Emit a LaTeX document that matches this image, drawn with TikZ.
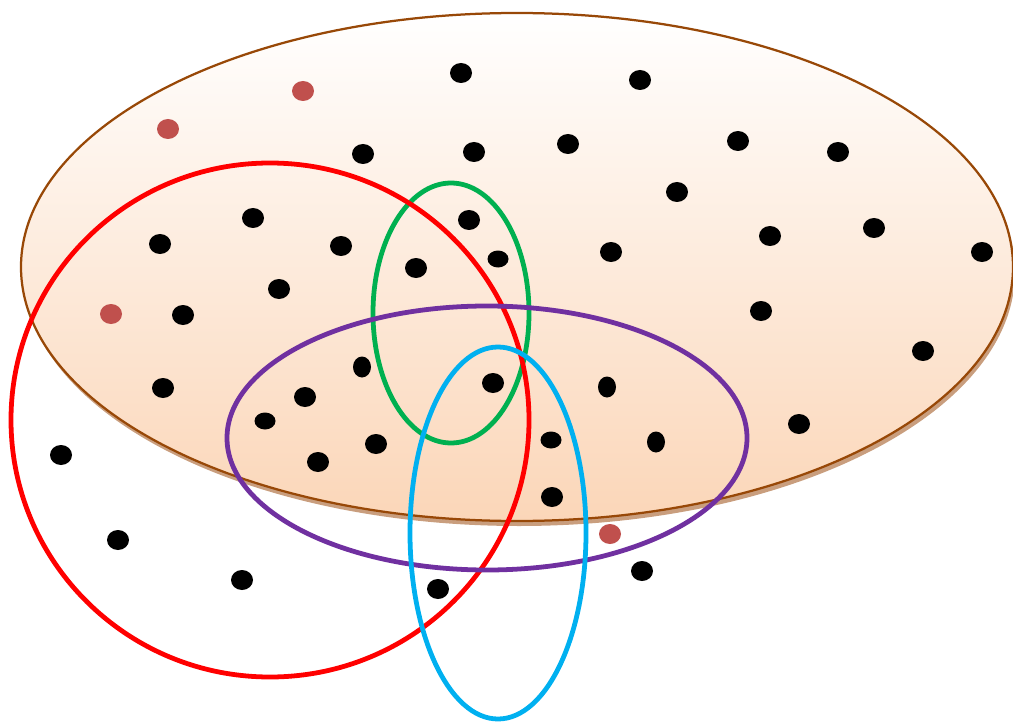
\documentclass[tikz,border=0pt]{standalone}
\definecolor{ringred}{RGB}{255,0,0}
\definecolor{ringgreen}{RGB}{0,176,80}
\definecolor{ringpurple}{RGB}{112,48,160}
\definecolor{ringblue}{RGB}{0,176,240}
\definecolor{setbrown}{RGB}{152,72,7}
\definecolor{setshadow}{RGB}{201,158,126}
\definecolor{setpeach}{RGB}{251,214,184}
\definecolor{dotred}{RGB}{192,80,77}
\tikzset{
  universe/.style={draw=setbrown, line width=1.6pt, top color=white, bottom color=setpeach},
  ring/.style={draw=#1, line width=3.4pt},
  dot/.style={fill=black},
  reddot/.style={fill=dotred}
}

\begin{document}
\begin{tikzpicture}[x=0.025cm, y=-0.025cm]
  \useasboundingbox (0,0) rectangle (1013,722);
  % large set with shadow
  \fill[setshadow] (519,272) ellipse [x radius=496, y radius=254];
  \path[universe] (517,267) ellipse [x radius=496, y radius=254];

  % points
  \foreach \px/\py in {461/73, 640/80, 363/154, 474/152, 568/144, 738/141,
      838/152, 677/192, 253/218, 160/244, 341/246, 469/220, 416/268,
      611/252, 770/236, 874/228, 982/252, 279/289, 183/315, 761/311,
      923/351, 163/388, 305/397, 493/383, 376/444, 318/462, 799/424,
      61/455, 552/497, 118/540, 242/580, 438/589, 642/571}
    \fill[dot] (\px,\py) ellipse [x radius=11, y radius=10];
  \foreach \px/\py in {498/259, 265/421, 551/440}
    \fill[dot] (\px,\py) ellipse [x radius=10.5, y radius=8.5];
  \foreach \px/\py in {362/367, 607/387, 656/442}
    \fill[dot] (\px,\py) ellipse [x radius=9, y radius=10.5];
  \foreach \px/\py in {303/91, 168/129, 111/314, 610/534}
    \fill[reddot] (\px,\py) ellipse [x radius=11, y radius=10];

  % subsets
  \draw[ring=ringgreen] (451,313) ellipse [x radius=78, y radius=130];
  \draw[ring=ringred] (270,420) ellipse [x radius=259, y radius=257];
  \draw[ring=ringpurple] (487,438) ellipse [x radius=260, y radius=132];
  \draw[ring=ringblue] (498,533) ellipse [x radius=88, y radius=186];
\end{tikzpicture}
\end{document}
